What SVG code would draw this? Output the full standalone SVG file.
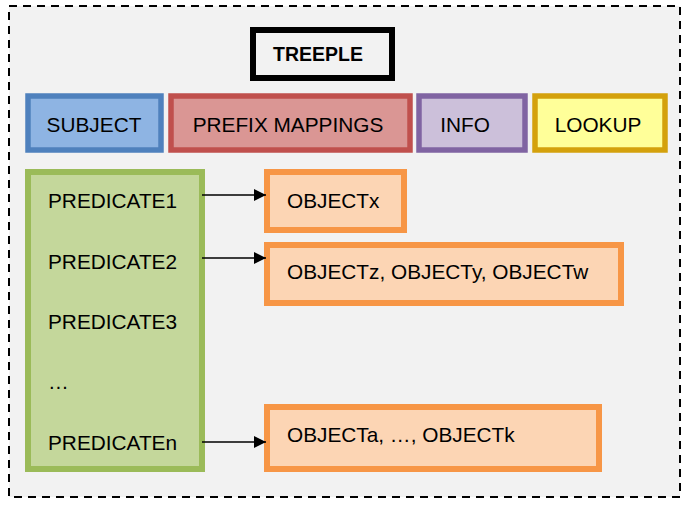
<svg xmlns="http://www.w3.org/2000/svg" width="687" height="505" viewBox="0 0 687 505">
<style>
text{font-family:"Liberation Sans",Arial,sans-serif;font-size:20.8px;fill:#000}
.c{text-anchor:middle}
.obj rect{fill:#FCD5B4;stroke:#F79646;stroke-width:6}
.conn line{stroke:#000;stroke-width:1.6}
</style>
<defs>
<marker id="ah" viewBox="0 0 10 10" refX="10" refY="5" markerWidth="14" markerHeight="12" markerUnits="userSpaceOnUse" orient="auto">
<path d="M0,0L10,5L0,10z" fill="#000"/>
</marker>
</defs>
<rect x="0" y="0" width="687" height="505" fill="#fff"/>
<rect id="frame" x="9" y="6" width="671" height="491" fill="#F2F2F2" stroke="#000" stroke-width="2" stroke-dasharray="8,6"/>
<g id="treeple">
<rect x="253" y="30" width="139" height="48" fill="#F2F2F2" stroke="#000" stroke-width="6"/>
<text x="318" y="61" class="c" style="font-weight:bold;font-size:19.5px">TREEPLE</text>
</g>
<g id="subject">
<rect x="28" y="96" width="133" height="54" fill="#8EB4E3" stroke="#4F81BD" stroke-width="5.5"/>
<text x="94" y="132" class="c">SUBJECT</text>
</g>
<g id="prefix">
<rect x="171" y="96" width="239" height="54" fill="#DA9694" stroke="#C0504D" stroke-width="5.5"/>
<text x="288" y="132" class="c">PREFIX MAPPINGS</text>
</g>
<g id="info">
<rect x="419" y="96" width="106" height="54" fill="#CCC0DA" stroke="#8064A2" stroke-width="5.5"/>
<text x="465" y="132" class="c">INFO</text>
</g>
<g id="lookup">
<rect x="535" y="96" width="130" height="54" fill="#FFFF99" stroke="#D4A10C" stroke-width="5.5"/>
<text x="598" y="132" class="c">LOOKUP</text>
</g>
<g id="predicates">
<rect x="28" y="172" width="174" height="297" fill="#C4D79B" stroke="#9BBB59" stroke-width="6"/>
<text x="48" y="208">PREDICATE1</text>
<text x="48" y="269">PREDICATE2</text>
<text x="48" y="329">PREDICATE3</text>
<text x="48" y="389">…</text>
<text x="48" y="450">PREDICATEn</text>
</g>
<g id="objx" class="obj">
<rect x="267" y="172" width="137" height="58"/>
<text x="287" y="208">OBJECTx</text>
</g>
<g id="objzyw" class="obj">
<rect x="267" y="245" width="354" height="58"/>
<text x="287" y="279">OBJECTz, OBJECTy, OBJECTw</text>
</g>
<g id="objak" class="obj">
<rect x="267" y="407" width="332" height="62"/>
<text x="287" y="442">OBJECTa, …, OBJECTk</text>
</g>
<g id="connectors" class="conn">
<line x1="202" y1="195" x2="266" y2="195" marker-end="url(#ah)"/>
<line x1="202" y1="258" x2="266" y2="258" marker-end="url(#ah)"/>
<line x1="202" y1="442" x2="266" y2="442" marker-end="url(#ah)"/>
</g>
</svg>
